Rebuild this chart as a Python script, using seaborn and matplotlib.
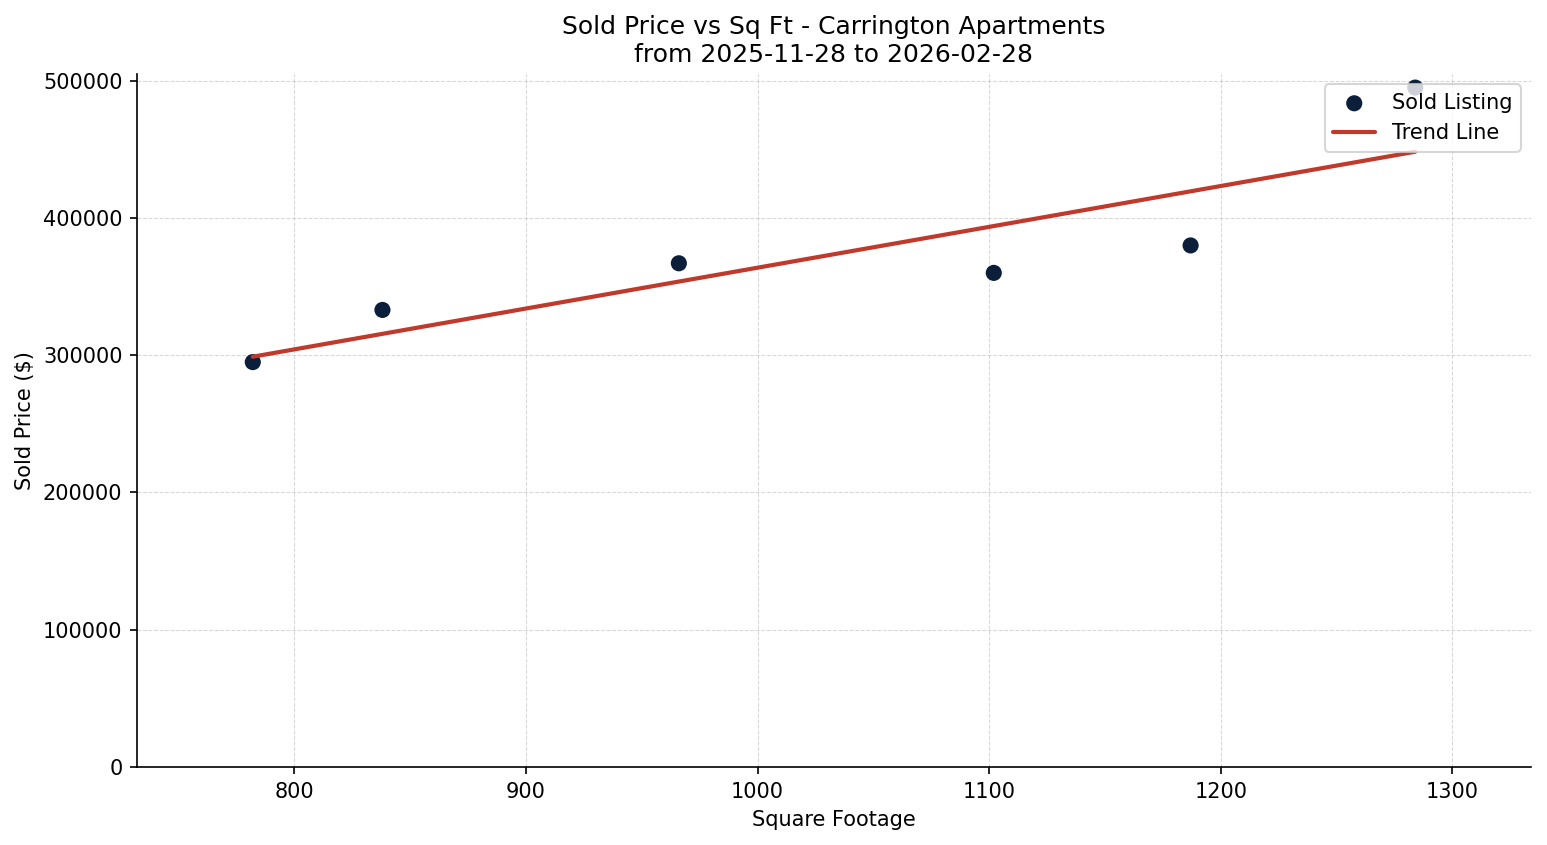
import numpy as np
import pandas as pd
import matplotlib
matplotlib.use("Agg")
import matplotlib.pyplot as plt
import seaborn as sns

# Sold listings
sqft = [782, 838, 966, 1102, 1187, 1284]
sold_price = [295000, 333000, 367000, 360000, 380000, 495000]

df = pd.DataFrame({"sqft": sqft, "price": sold_price})

# Linear trend
slope, intercept = np.polyfit(df["sqft"], df["price"], 1)
trend_x = np.array([df["sqft"].min(), df["sqft"].max()])
trend = pd.DataFrame({"sqft": trend_x, "price": slope * trend_x + intercept})

sns.set_style("ticks")
plt.rcParams["font.family"] = ["DejaVu Sans"]
plt.rcParams.update({
    "text.color": "black",
    "axes.labelcolor": "black",
    "xtick.color": "black",
    "ytick.color": "black",
    "axes.edgecolor": "black",
})

fig, ax = plt.subplots(figsize=(1547 / 150, 845 / 150), dpi=150)
fig.subplots_adjust(left=137 / 1547, right=1531 / 1547, top=1 - 74 / 845, bottom=1 - 767 / 845)

sns.scatterplot(data=df, x="sqft", y="price", color="#0b1f3a", s=60,
                edgecolor="none", label="Sold Listing", ax=ax, zorder=3)
sns.lineplot(data=trend, x="sqft", y="price", color="#c0392b", linewidth=2,
             label="Trend Line", ax=ax, zorder=4)

ax.set_xlim(df["sqft"].min() - 50, df["sqft"].max() + 50)
ax.set_ylim(0, df["price"].max() * 1.02)
ax.grid(True, linestyle="--", linewidth=0.5, color="#b0b0b0", alpha=0.5)
ax.set_axisbelow(True)
sns.despine(ax=ax)

ax.set_title("Sold Price vs Sq Ft - Carrington Apartments\nfrom 2025-11-28 to 2026-02-28",
             fontsize=12)
ax.set_xlabel("Square Footage")
ax.set_ylabel("Sold Price ($)")
leg = ax.legend(loc="upper right", frameon=True)
leg.set_zorder(5)

plt.savefig("out.png", dpi=150)
